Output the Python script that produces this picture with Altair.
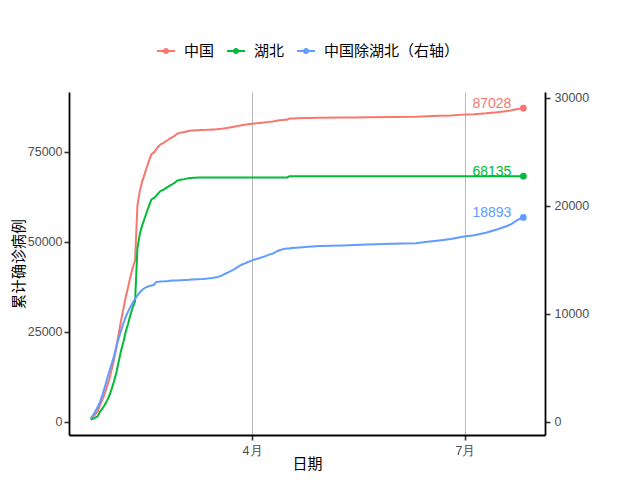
import altair as alt
import pandas as pd

# ---- data ----
dates = [
    "2020-01-23", "2020-01-24", "2020-01-25", "2020-01-26", "2020-01-27", "2020-01-28",
    "2020-01-29", "2020-01-30", "2020-01-31", "2020-02-01", "2020-02-02", "2020-02-03",
    "2020-02-04", "2020-02-05", "2020-02-06", "2020-02-07", "2020-02-08", "2020-02-09",
    "2020-02-10", "2020-02-11", "2020-02-12", "2020-02-13", "2020-02-14", "2020-02-15",
    "2020-02-16", "2020-02-17", "2020-02-18", "2020-02-19", "2020-02-20", "2020-02-21",
    "2020-02-22", "2020-02-23", "2020-02-24", "2020-02-25", "2020-02-26", "2020-02-27",
    "2020-02-28", "2020-02-29", "2020-03-01", "2020-03-02", "2020-03-03", "2020-03-04",
    "2020-03-05", "2020-03-06", "2020-03-07", "2020-03-08", "2020-03-09", "2020-03-10",
    "2020-03-11", "2020-03-12", "2020-03-13", "2020-03-14", "2020-03-15", "2020-03-16",
    "2020-03-17", "2020-03-18", "2020-03-19", "2020-03-20", "2020-03-21", "2020-03-22",
    "2020-03-23", "2020-03-24", "2020-03-25", "2020-03-26", "2020-03-27", "2020-03-28",
    "2020-03-29", "2020-03-30", "2020-03-31", "2020-04-01", "2020-04-02", "2020-04-03",
    "2020-04-04", "2020-04-05", "2020-04-06", "2020-04-07", "2020-04-08", "2020-04-09",
    "2020-04-10", "2020-04-11", "2020-04-12", "2020-04-13", "2020-04-14", "2020-04-15",
    "2020-04-16", "2020-04-17", "2020-04-18", "2020-04-20", "2020-04-25", "2020-04-30",
    "2020-05-10", "2020-05-15", "2020-05-20", "2020-05-31", "2020-06-10", "2020-06-15",
    "2020-06-20", "2020-06-25", "2020-06-30", "2020-07-05", "2020-07-10", "2020-07-15",
    "2020-07-19", "2020-07-21", "2020-07-23", "2020-07-25", "2020-07-26",
]

china = [
    835, 1295, 1986, 2762, 4536, 5999,
    7740, 9723, 11824, 14417, 17244, 20481,
    24374, 28077, 31223, 34614, 37269, 40243,
    42712, 44731, 59882, 63932, 66576, 68588,
    70638, 72526, 74277, 74672, 75567, 76392,
    77042, 77262, 77774, 78190, 78627, 78961,
    79390, 79967, 80176, 80306, 80430, 80572,
    80717, 80819, 80867, 80909, 80929, 80956,
    80979, 81009, 81032, 81061, 81088, 81125,
    81164, 81233, 81311, 81416, 81527, 81630,
    81743, 81849, 81975, 82115, 82252, 82359,
    82442, 82547, 82634, 82726, 82800, 82851,
    82915, 82999, 83062, 83143, 83233, 83298,
    83364, 83476, 83592, 83686, 83742, 83793,
    83827, 84158, 84192, 84227, 84308, 84384,
    84436, 84480, 84527, 84592, 84647, 84781,
    84900, 85030, 85245, 85375, 85615, 85935,
    86235, 86435, 86735, 86935, 87028,
]

hubei = [
    549, 729, 1052, 1423, 2714, 3554,
    4586, 5806, 7153, 9074, 11177, 13522,
    16678, 19665, 22112, 24953, 27100, 29631,
    31728, 33366, 48206, 51986, 54406, 56249,
    58182, 59989, 61682, 62031, 62662, 63454,
    64084, 64287, 64786, 65187, 65596, 65914,
    66337, 66907, 67103, 67217, 67332, 67466,
    67592, 67666, 67707, 67743, 67760, 67773,
    67781, 67786, 67790, 67794, 67798, 67799,
    67800, 67800, 67800, 67800, 67800, 67800,
    67800, 67801, 67801, 67801, 67801, 67801,
    67801, 67801, 67802, 67802, 67802, 67802,
    67802, 67803, 67803, 67803, 67803, 67803,
    67803, 67803, 67803, 67803, 67803, 67803,
    67803, 68128, 68128, 68128, 68128, 68128,
    68128, 68134, 68135, 68135, 68135, 68135,
    68135, 68135, 68135, 68135, 68135, 68135,
    68135, 68135, 68135, 68135, 68135,
]

series_names = ["中国", "湖北", "中国除湖北（右轴）"]
series_colors = ["#F8766D", "#00BA38", "#619CFF"]

left_ticks = [0, 25000, 50000, 75000]
right_ticks = [0, 10000, 20000, 30000]
left_domain = [-3750, 91530]
right_domain = [-1250, 30510]

# ---- tables ----
n = len(dates)
ex_hubei = [c - h for c, h in zip(china, hubei)]

left_df = pd.DataFrame({
    "date": dates + dates,
    "value": china + hubei,
    "series": [series_names[0]] * n + [series_names[1]] * n,
})
right_df = pd.DataFrame({
    "date": dates,
    "value": ex_hubei,
    "series": [series_names[2]] * n,
})
left_end = left_df[left_df["date"] == dates[-1]].copy()
left_end["label"] = left_end["value"].astype(str)
right_end = right_df[right_df["date"] == dates[-1]].copy()
right_end["label"] = right_end["value"].astype(str)

# ---- encodings ----
LAB_FONT = "Liberation Sans"
CJK = "Noto Sans CJK SC"

x_enc = alt.X(
    "date:T",
    scale=alt.Scale(
        type="utc",
        domain=[
            alt.DateTime(year=2020, month=1, date=13, hours=18, utc=True),
            alt.DateTime(year=2020, month=8, date=4, hours=6, utc=True),
        ],
    ),
    axis=alt.Axis(
        title="日期",
        values=[
            alt.DateTime(year=2020, month=4, date=1, utc=True),
            alt.DateTime(year=2020, month=7, date=1, utc=True),
        ],
        labelExpr="(utcmonth(datum.value) + 1) + '月'",
        grid=True,
        gridColor="#B8B8B8",
        gridWidth=1,
        titleX=238,
        titleY=28,
        titleBaseline="middle",
        titleAlign="center",
        labelPadding=4,
    ),
)

y_left = alt.Y(
    "value:Q",
    scale=alt.Scale(domain=left_domain, nice=False, zero=False),
    axis=alt.Axis(
        title="累计确诊病例",
        values=left_ticks,
        format="d",
        grid=False,
        orient="left",
        titleX=-51,
        titleY=171.5,
        titleAngle=270,
        titleAlign="center",
        titleBaseline="middle",
        labelPadding=2,
    ),
)

y_right = alt.Y(
    "value:Q",
    scale=alt.Scale(domain=right_domain, nice=False, zero=False),
    axis=alt.Axis(
        title=None,
        values=right_ticks,
        format="d",
        grid=False,
        orient="right",
        labelPadding=4,
    ),
)

color_scale = alt.Scale(domain=series_names, range=series_colors)

legend_symbol = (
    "M-1,-0.11L1,-0.11L1,0.11L-1,0.11Z "
    "M0.34,0A0.34,0.34 0 1,1 -0.34,0A0.34,0.34 0 1,1 0.34,0Z"
)
legend = alt.Legend(
    title=None,
    orient="none",
    direction="horizontal",
    legendX=88,
    legendY=-50,
    symbolType=legend_symbol,
    symbolSize=324,
    symbolStrokeWidth=0,
    labelFont=CJK,
    labelFontSize=15,
    labelColor="black",
    labelOffset=9,
    columnPadding=12,
)

color_enc = alt.Color("series:N", scale=color_scale, legend=legend)


def build(df, end_df, y_enc):
    pts = alt.Chart(end_df).mark_circle(size=45, opacity=1).encode(
        x=x_enc, y=y_enc, color=color_enc
    )
    lines = alt.Chart(df).mark_line(strokeWidth=2).encode(
        x=x_enc, y=y_enc, color=color_enc, detail="series:N"
    )
    txt = alt.Chart(end_df).mark_text(
        align="right", baseline="middle", dx=-12, dy=-4, fontSize=14, font=LAB_FONT
    ).encode(x=x_enc, y=y_enc, text="label:N", color=color_enc)
    return alt.layer(pts, lines, txt)


left = build(left_df, left_end, y_left)
right = build(right_df, right_end, y_right)

chart = (
    alt.layer(left, right)
    .resolve_scale(y="independent")
    .properties(
        width=476,
        height=343,
        padding={"left": 61, "top": 84, "right": 87, "bottom": 37},
        autosize=alt.AutoSizeParams(type="none"),
        background="white",
    )
    .configure_view(stroke=None)
    .configure_axis(
        domainColor="black",
        domainWidth=1.8,
        tickColor="#333333",
        tickWidth=1.6,
        tickSize=5,
        labelFont=LAB_FONT,
        labelFontSize=12.5,
        labelColor="#4D4D4D",
        titleFont=CJK,
        titleFontSize=15,
        titleFontWeight="normal",
        titleColor="black",
    )
)

chart.save("out.html", embed_options={"renderer": "svg", "actions": False})
